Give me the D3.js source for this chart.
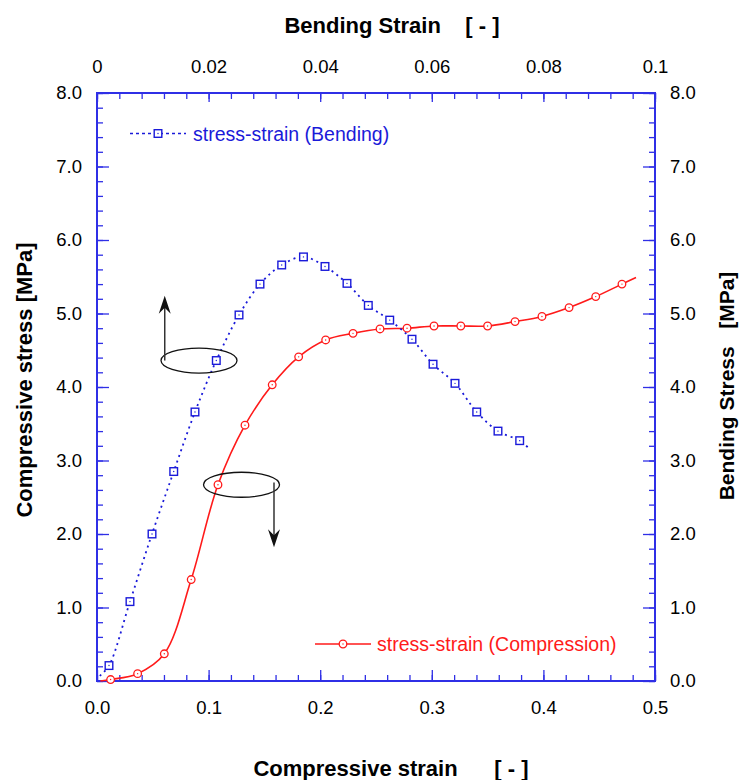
<!DOCTYPE html>
<html>
<head>
<meta charset="utf-8">
<script src="https://cdn.jsdelivr.net/npm/d3@7"></script>
<style>
  html, body { margin: 0; padding: 0; background: #fff; }
  svg text { font-family: "Liberation Sans", Arial, sans-serif; }
</style>
</head>
<body>
<svg id="chart" width="739" height="780"></svg>
<script>
// ---------- data ----------
// Compression: x = compressive strain [-] (bottom axis), y = compressive stress [MPa] (left axis)
const compStrain = [0.003, 0.0122, 0.0364, 0.0603, 0.0844, 0.1084, 0.1326, 0.157, 0.1807, 0.2049, 0.2294, 0.2536, 0.2778, 0.302, 0.326, 0.350, 0.3746, 0.3987, 0.423, 0.4469, 0.4704, 0.483];
const compStress = [0.00, 0.02, 0.10, 0.37, 1.38, 2.67, 3.48, 4.03, 4.41, 4.64, 4.73, 4.79, 4.80, 4.83, 4.83, 4.83, 4.89, 4.96, 5.08, 5.23, 5.40, 5.49];
// marker flags (first and last points are line ends only)
const compMarker = [0,1,1,1,1,1,1,1,1,1,1,1,1,1,1,1,1,1,1,1,1,0];

// Bending: x = bending strain [-] (top axis), y = bending stress [MPa] (right axis)
const bendStrain = [0.0005, 0.00215, 0.00591, 0.00986, 0.01375, 0.01756, 0.02138, 0.02545, 0.02921, 0.0331, 0.0370, 0.04086, 0.0448, 0.04862, 0.05246, 0.05645, 0.06022, 0.06416, 0.06805, 0.07186, 0.07575, 0.0772];
const bendStress = [0.07, 0.21, 1.08, 2.00, 2.85, 3.66, 4.36, 4.98, 5.40, 5.66, 5.77, 5.64, 5.41, 5.11, 4.91, 4.65, 4.31, 4.05, 3.66, 3.40, 3.27, 3.18];
const bendMarker = [0,1,1,1,1,1,1,1,1,1,1,1,1,1,1,1,1,1,1,1,1,0];

// axis ticks
const bottomTicks = [0, 0.1, 0.2, 0.3, 0.4, 0.5];
const bottomTickLabels = ["0.0", "0.1", "0.2", "0.3", "0.4", "0.5"];
const topTicks = [0, 0.02, 0.04, 0.06, 0.08, 0.1];
const topTickLabels = ["0", "0.02", "0.04", "0.06", "0.08", "0.1"];
const stressTicks = [0, 1, 2, 3, 4, 5, 6, 7, 8];
const stressTickLabels = ["0.0", "1.0", "2.0", "3.0", "4.0", "5.0", "6.0", "7.0", "8.0"];

// annotations (ellipse centres in compressive-strain / stress units)
const annoEllipses = [
  { x: 0.0914, y: 4.36, arrowX: 0.0607, from: 4.36, to: 5.24 },
  { x: 0.1295, y: 2.67, arrowX: 0.1586, from: 2.70, to: 1.82 }
];

// ---------- layout ----------
const W = 739, H = 780;
const m = { left: 97, right: 84, top: 93, bottom: 99 };
const x0 = m.left, x1 = W - m.right, y0 = H - m.bottom, y1 = m.top;

const xBottom = d3.scaleLinear().domain([0, 0.5]).range([x0, x1]);
const xTop = d3.scaleLinear().domain([0, 0.1]).range([x0, x1]);
const yLeft = d3.scaleLinear().domain([0, 8]).range([y0, y1]);
const yRight = d3.scaleLinear().domain([0, 8]).range([y0, y1]);

const svg = d3.select("#chart");
const axisColor = "#2f2fe6";
const fontTick = 18.5;

// minor ticks
function minor(step, lo, hi) {
  const a = [];
  for (let v = lo; v <= hi + 1e-9; v += step) a.push(+v.toFixed(6));
  return a;
}

function styleAxis(g) {
  g.select(".domain").remove();
  g.selectAll(".tick line").attr("stroke", axisColor).attr("stroke-width", 1.3);
  g.selectAll(".tick text").attr("fill", "#000").attr("font-size", fontTick)
    .attr("font-family", "'Liberation Sans', Arial, sans-serif");
}

// bottom
svg.append("g").attr("transform", `translate(0,${y0})`)
  .call(d3.axisBottom(xBottom).tickValues(minor(0.02, 0, 0.5)).tickSize(-6).tickFormat(""))
  .call(styleAxis);
svg.append("g").attr("transform", `translate(0,${y0})`)
  .call(d3.axisBottom(xBottom).tickValues(bottomTicks).tickSize(-11).tickPadding(20)
    .tickFormat((d, i) => bottomTickLabels[i]))
  .call(styleAxis);
// top
svg.append("g").attr("transform", `translate(0,${y1})`)
  .call(d3.axisTop(xTop).tickValues(minor(0.004, 0, 0.1)).tickSize(-6).tickFormat(""))
  .call(styleAxis);
svg.append("g").attr("transform", `translate(0,${y1})`)
  .call(d3.axisTop(xTop).tickValues(topTicks).tickSize(-9).tickPadding(20)
    .tickFormat((d, i) => topTickLabels[i]))
  .call(styleAxis);
// left
svg.append("g").attr("transform", `translate(${x0},0)`)
  .call(d3.axisLeft(yLeft).tickValues(minor(0.2, 0, 8)).tickSize(-6).tickFormat(""))
  .call(styleAxis);
svg.append("g").attr("transform", `translate(${x0},0)`)
  .call(d3.axisLeft(yLeft).tickValues(stressTicks).tickSize(-12).tickPadding(15)
    .tickFormat((d, i) => stressTickLabels[i]))
  .call(styleAxis);
// right
svg.append("g").attr("transform", `translate(${x1},0)`)
  .call(d3.axisRight(yRight).tickValues(minor(0.2, 0, 8)).tickSize(-6).tickFormat(""))
  .call(styleAxis);
svg.append("g").attr("transform", `translate(${x1},0)`)
  .call(d3.axisRight(yRight).tickValues(stressTicks).tickSize(-12).tickPadding(15)
    .tickFormat((d, i) => stressTickLabels[i]))
  .call(styleAxis);

// frame
svg.append("rect").attr("x", x0).attr("y", y1).attr("width", x1 - x0).attr("height", y0 - y1)
  .attr("fill", "none").attr("stroke", axisColor).attr("stroke-width", 2);

// ---------- series ----------
const comp = compStrain.map((v, i) => ({ x: v, y: compStress[i], mk: compMarker[i] }));
const bend = bendStrain.map((v, i) => ({ x: v, y: bendStress[i], mk: bendMarker[i] }));

const red = "#ff1a1a", blue = "#1a1ad9";

svg.append("path").datum(comp)
  .attr("d", d3.line().x(d => xBottom(d.x)).y(d => yLeft(d.y)).curve(d3.curveCatmullRom.alpha(0.5)))
  .attr("fill", "none").attr("stroke", red).attr("stroke-width", 1.6);

svg.append("path").datum(bend)
  .attr("d", d3.line().x(d => xTop(d.x)).y(d => yRight(d.y)).curve(d3.curveCatmullRom.alpha(0.5)))
  .attr("fill", "none").attr("stroke", blue).attr("stroke-width", 1.8)
  .attr("stroke-dasharray", "2,4");

function circleMarker(g, cx, cy) {
  g.append("circle").attr("cx", cx).attr("cy", cy).attr("r", 3.8)
    .attr("fill", "#fff").attr("stroke", red).attr("stroke-width", 1.3);
  g.append("circle").attr("cx", cx).attr("cy", cy).attr("r", 0.7).attr("fill", red);
}
function squareMarker(g, cx, cy) {
  g.append("rect").attr("x", cx - 3.8).attr("y", cy - 3.8).attr("width", 7.6).attr("height", 7.6)
    .attr("fill", "#fff").attr("stroke", blue).attr("stroke-width", 1.4);
  g.append("circle").attr("cx", cx).attr("cy", cy).attr("r", 0.7).attr("fill", blue);
}

const gm = svg.append("g");
comp.filter(d => d.mk).forEach(d => circleMarker(gm, xBottom(d.x), yLeft(d.y)));
bend.filter(d => d.mk).forEach(d => squareMarker(gm, xTop(d.x), yRight(d.y)));

// ---------- annotations ----------
const ga = svg.append("g");
annoEllipses.forEach(a => {
  ga.append("ellipse").attr("cx", xBottom(a.x)).attr("cy", yLeft(a.y)).attr("rx", 38).attr("ry", 12.5)
    .attr("fill", "none").attr("stroke", "#111").attr("stroke-width", 1.3);
  const ax = xBottom(a.arrowX), ya = yLeft(a.from), yb = yLeft(a.to);
  const dir = yb < ya ? -1 : 1;
  ga.append("line").attr("x1", ax).attr("x2", ax).attr("y1", ya).attr("y2", yb - dir * 8)
    .attr("stroke", "#333").attr("stroke-width", 1.5);
  ga.append("path")
    .attr("d", `M${ax},${yb} L${ax - 6},${yb - dir * 18} L${ax},${yb - dir * 12} L${ax + 6},${yb - dir * 18} Z`)
    .attr("fill", "#111");
});

// ---------- legends ----------
function legend(lx1, lx2, ly, color, dash, marker, label, tx) {
  svg.append("line").attr("x1", lx1).attr("x2", lx2).attr("y1", ly).attr("y2", ly)
    .attr("stroke", color).attr("stroke-width", dash ? 1.6 : 1.4).attr("stroke-dasharray", dash || null);
  marker(svg, (lx1 + lx2) / 2, ly);
  svg.append("text").attr("x", tx).attr("y", ly + 7).attr("fill", color)
    .attr("font-size", 19.5).text(label);
}
legend(130, 186, 133.5, blue, "3,3", squareMarker, "stress-strain (Bending)", 193);
legend(315, 371, 644, red, null, circleMarker, "stress-strain (Compression)", 377);

// ---------- titles ----------
const sp = n => "\u00a0".repeat(n);
svg.append("text").attr("x", 391).attr("y", 776).attr("text-anchor", "middle")
  .attr("font-size", 22).attr("font-weight", "bold")
  .text("Compressive strain" + sp(6) + "[ - ]");
svg.append("text").attr("x", 392).attr("y", 33).attr("text-anchor", "middle")
  .attr("font-size", 22).attr("font-weight", "bold")
  .text("Bending Strain" + sp(4) + "[ - ]");
svg.append("text").attr("transform", `translate(32,380) rotate(-90)`).attr("text-anchor", "middle")
  .attr("font-size", 22).attr("font-weight", "bold")
  .text("Compressive stress [MPa]");
svg.append("text").attr("transform", `translate(734,386) rotate(-90)`).attr("text-anchor", "middle")
  .attr("font-size", 21).attr("font-weight", "bold")
  .text("Bending Stress" + sp(3) + "[MPa]");
</script>
</body>
</html>
